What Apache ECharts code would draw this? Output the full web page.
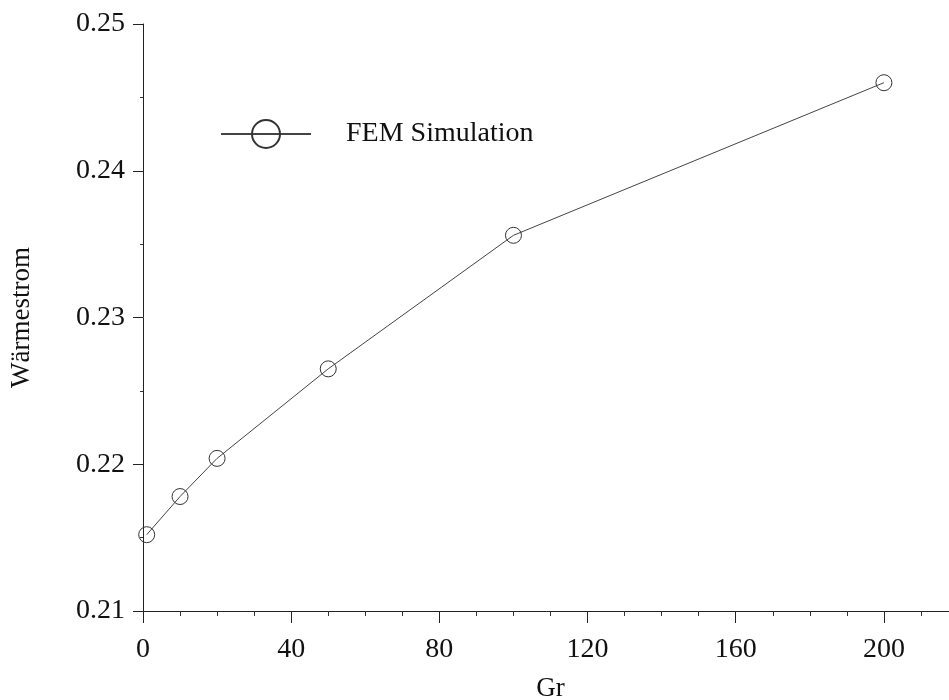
<!DOCTYPE html>
<html>
<head>
<meta charset="utf-8">
<script src="https://cdn.jsdelivr.net/npm/echarts@6/dist/echarts.min.js"></script>
<style>
  html, body { margin: 0; padding: 0; background: #fff; }
  #chart { width: 949px; height: 700px; }
</style>
</head>
<body>
<div id="chart"></div>
<script>
  // values
  var grValues = [1, 10, 20, 50, 100, 200]
  var heatFlow = [0.2152, 0.2178, 0.2204, 0.2265, 0.2356, 0.2460]
  var seriesName = 'FEM Simulation'

  var points = grValues.map(function (g, i) { return [g, heatFlow[i]] })
  var font = '"Liberation Serif", "DejaVu Serif", serif'

  var chart = echarts.init(document.getElementById('chart'))
  chart.setOption({
    animation: false,
    backgroundColor: '#fff',
    textStyle: { fontFamily: font },
    grid: { left: 143, top: 24, right: -9, bottom: 89, outerBoundsMode: 'none', containLabel: false },
    legend: {
      data: [seriesName],
      left: 215,
      top: 114,
      itemWidth: 90,
      itemHeight: 35,
      textStyle: { fontFamily: font, fontSize: 28, color: '#111', padding: [0, 0, 0, 30] }
    },
    xAxis: {
      type: 'value',
      min: 0,
      max: 220,
      interval: 40,
      name: 'Gr',
      nameLocation: 'middle',
      nameGap: 64,
      nameTextStyle: { fontFamily: font, fontSize: 27, color: '#111' },
      axisLine: { lineStyle: { color: '#222', width: 1 } },
      axisTick: { inside: false, length: 12, lineStyle: { color: '#222' } },
      minorTick: { show: true, splitNumber: 4, length: 5, lineStyle: { color: '#333' } },
      axisLabel: {
        fontFamily: font, fontSize: 28, color: '#111', margin: 25,
        formatter: function (v) { return v <= 200 ? String(v) : '' }
      },
      splitLine: { show: false }
    },
    yAxis: {
      type: 'value',
      min: 0.21,
      max: 0.25,
      interval: 0.01,
      name: 'Wärmestrom',
      nameLocation: 'middle',
      nameGap: 108,
      nameTextStyle: { fontFamily: font, fontSize: 27, color: '#111' },
      axisLine: { show: true, lineStyle: { color: '#222', width: 1 } },
      axisTick: { show: true, length: 10, lineStyle: { color: '#222' } },
      minorTick: { show: true, splitNumber: 2, length: 3, lineStyle: { color: '#333' } },
      axisLabel: {
        fontFamily: font, fontSize: 28, color: '#111', margin: 18,
        formatter: function (v) { return v.toFixed(2) }
      },
      splitLine: { show: false }
    },
    series: [{
      name: seriesName,
      type: 'line',
      data: points,
      symbol: 'circle',
      symbolSize: 16,
      showAllSymbol: true,
      lineStyle: { color: '#444', width: 1 },
      itemStyle: { color: 'rgba(255,255,255,0)', borderColor: '#333', borderWidth: 1 },
      z: 3
    }]
  })
</script>
</body>
</html>
